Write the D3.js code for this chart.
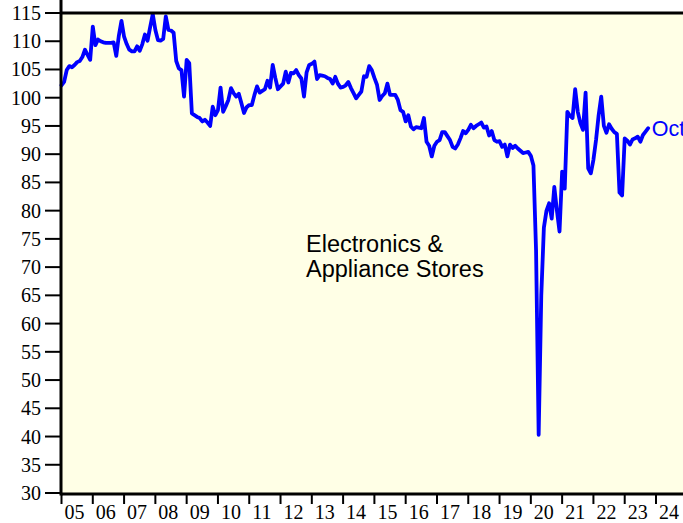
<!DOCTYPE html>
<html>
<head>
<meta charset="utf-8">
<script src="https://cdn.jsdelivr.net/npm/d3@7"></script>
<style>
  html, body { margin: 0; padding: 0; background: #ffffff; }
  svg { display: block; }
</style>
</head>
<body>
<svg id="chart" width="683" height="523"></svg>
<script>
// Monthly index, Jan 2005 .. Oct 2023
const startYear = 2005;
const values = [
  // 2005
  102.2, 102.8, 104.9, 105.6, 105.4, 105.8, 106.3, 106.5, 107.2, 108.5, 107.6, 106.7,
  // 2006
  112.6, 109.3, 110.3, 110.0, 109.8, 109.7, 109.7, 109.7, 109.8, 107.4, 111.0, 113.6,
  // 2007
  110.8, 109.5, 108.5, 108.2, 108.2, 109.1, 108.3, 109.5, 111.2, 110.1, 112.5, 114.8,
  // 2008
  112.0, 110.2, 110.1, 110.4, 114.4, 112.0, 111.9, 111.5, 106.5, 105.2, 104.9, 100.2,
  // 2009
  106.7, 106.1, 97.2, 96.9, 96.6, 96.4, 95.8, 96.1, 95.6, 95.0, 98.4, 96.9,
  // 2010
  97.8, 101.8, 97.5, 98.5, 99.6, 101.7, 100.8, 100.2, 100.7, 99.0, 97.3, 98.3,
  // 2011
  98.7, 98.7, 100.5, 102.0, 100.9, 101.2, 101.5, 103.0, 101.8, 105.8, 103.5, 101.5,
  // 2012
  102.0, 102.5, 104.6, 102.7, 104.4, 104.3, 104.9, 104.0, 103.4, 100.2, 104.5, 105.8,
  // 2013
  106.0, 106.4, 103.3, 104.0, 103.9, 103.8, 103.5, 103.3, 102.5, 103.7, 102.5, 101.8,
  // 2014
  101.9, 102.2, 102.8, 101.7, 100.8, 99.9, 100.5, 101.1, 103.8, 103.7, 105.6, 104.9,
  // 2015
  103.5, 102.3, 99.6, 100.3, 100.8, 102.5, 100.5, 100.5, 100.5, 99.6, 97.8, 97.5,
  // 2016
  95.8, 96.9, 94.9, 94.4, 94.8, 94.7, 94.6, 96.4, 92.2, 91.5, 89.6, 91.5,
  // 2017
  92.2, 92.5, 93.9, 93.9, 93.2, 92.5, 91.3, 91.0, 91.7, 92.8, 94.1, 93.7,
  // 2018
  94.3, 95.2, 94.6, 95.0, 95.3, 95.6, 94.7, 94.9, 93.3, 94.1, 92.5, 92.2,
  // 2019
  92.3, 91.3, 91.7, 89.6, 91.7, 91.1, 91.5, 91.0, 90.6, 90.2, 90.3, 90.4,
  // 2020
  89.7, 88.0, 73.0, 40.3, 65.0, 77.0, 80.0, 81.3, 78.6, 84.2, 80.0, 76.3,
  // 2021
  86.9, 83.9, 97.5, 96.8, 96.4, 101.5, 97.5, 95.5, 94.3, 100.9, 87.5, 86.6,
  // 2022
  89.0, 92.5, 96.9, 100.2, 95.0, 93.8, 95.3, 94.5, 93.9, 93.6, 83.2, 82.7,
  // 2023
  92.8, 92.4, 91.7, 92.6, 92.8, 93.1, 92.2, 93.4, 94.0, 94.6
];
const yTicks = [30, 35, 40, 45, 50, 55, 60, 65, 70, 75, 80, 85, 90, 95, 100, 105, 110, 115];
const yearLabels = ["05","06","07","08","09","10","11","12","13","14","15","16","17","18","19","20","21","22","23","24"];
const titleLines = ["Electronics &", "Appliance Stores"];
const endLabel = "Oct";

const svg = d3.select("#chart");
const W = 683, H = 523;
const padLeft = 61, padTop = 13, axisBottom = 494;

const x = d3.scaleLinear().domain([0, 228]).range([61.5, 656]);
const y = d3.scaleLinear().domain([30, 115]).range([axisBottom - 1, padTop]);

// background
svg.append("rect").attr("x", 0).attr("y", 0).attr("width", W).attr("height", H).attr("fill", "#ffffff");
svg.append("rect").attr("x", padLeft).attr("y", padTop).attr("width", W - padLeft).attr("height", axisBottom - padTop)
  .attr("fill", "#FFFFE6");

// line
const line = d3.line().x((d, i) => x(i)).y(d => y(d));
svg.append("path").datum(values)
  .attr("d", line)
  .attr("fill", "none")
  .attr("stroke", "#0000FF")
  .attr("stroke-width", 3.8)
  .attr("stroke-linejoin", "round")
  .attr("stroke-linecap", "round");

// frame lines
svg.append("line").attr("x1", padLeft).attr("x2", W).attr("y1", padTop).attr("y2", padTop)
  .attr("stroke", "#000").attr("stroke-width", 3);
svg.append("line").attr("x1", padLeft).attr("x2", W).attr("y1", axisBottom).attr("y2", axisBottom)
  .attr("stroke", "#000").attr("stroke-width", 3);
svg.append("line").attr("x1", padLeft).attr("x2", padLeft).attr("y1", 0).attr("y2", axisBottom + 1.5)
  .attr("stroke", "#000").attr("stroke-width", 3);

// y axis ticks & labels
const yg = svg.append("g");
yTicks.forEach(t => {
  yg.append("line").attr("x1", 45).attr("x2", padLeft).attr("y1", y(t)).attr("y2", y(t))
    .attr("stroke", "#000").attr("stroke-width", 2);
  yg.append("text").attr("x", 41).attr("y", y(t)).attr("dy", "0.35em")
    .attr("text-anchor", "end")
    .attr("font-family", "'Liberation Serif', 'Times New Roman', serif")
    .attr("font-size", 20).attr("fill", "#000").text(t);
});

// x axis ticks & labels
const xg = svg.append("g");
yearLabels.forEach((lab, k) => {
  const xp = x(k * 12);
  xg.append("line").attr("x1", xp).attr("x2", xp).attr("y1", axisBottom).attr("y2", axisBottom + 10)
    .attr("stroke", "#000").attr("stroke-width", 2);
  xg.append("text").attr("x", xp + 3).attr("y", 519)
    .attr("font-family", "'Liberation Serif', 'Times New Roman', serif")
    .attr("font-size", 20).attr("fill", "#000").text(lab);
});

// end label
const lastI = values.length - 1;
svg.append("text").attr("x", x(lastI) + 3.5).attr("y", y(values[lastI])).attr("dy", "0.38em")
  .attr("font-family", "'Liberation Sans', Arial, sans-serif")
  .attr("font-size", 21.5).attr("fill", "#0000FF").text(endLabel);

// title text
titleLines.forEach((t, k) => {
  svg.append("text").attr("x", 306).attr("y", 252 + k * 25)
    .attr("font-family", "'Liberation Sans', Arial, sans-serif")
    .attr("font-size", 23.5).attr("fill", "#000").text(t);
});
</script>
</body>
</html>
